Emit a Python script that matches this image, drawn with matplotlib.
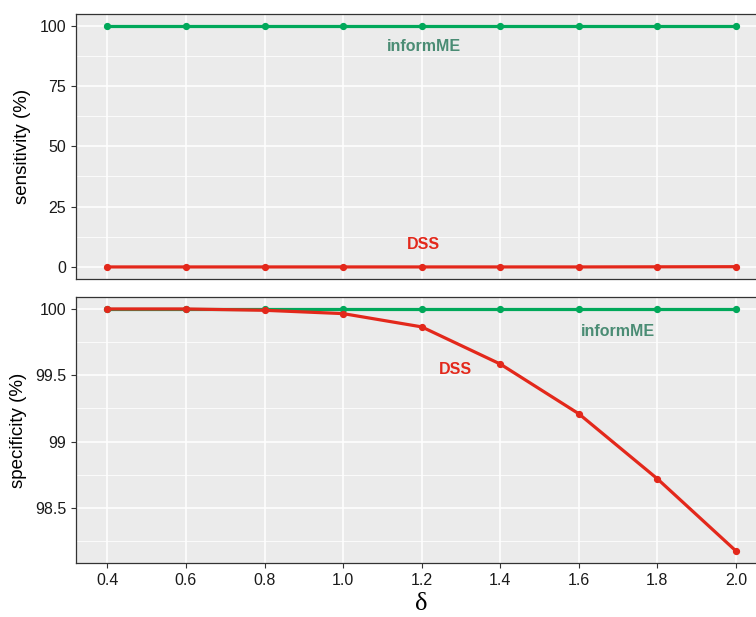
import matplotlib
matplotlib.use("Agg")
import matplotlib.pyplot as plt
from matplotlib.ticker import MultipleLocator

plt.rcParams['font.family'] = ['Liberation Sans', 'DejaVu Sans']

# data
delta = [0.4, 0.6, 0.8, 1.0, 1.2, 1.4, 1.6, 1.8, 2.0]
sens_informme = [100, 100, 100, 100, 100, 100, 100, 100, 100]
sens_dss = [0, 0, 0, 0, 0, 0, 0, 0.05, 0.1]
spec_informme = [100, 100, 100, 100, 100, 100, 100, 100, 100]
spec_dss = [100, 100, 99.99, 99.965, 99.865, 99.585, 99.21, 98.72, 98.176]

green = '#00A85A'
red = '#E3281B'
label_green = '#4A8C74'
bg = '#EBEBEB'
tick_col = '#1A1A1A'

fig = plt.figure(figsize=(7.56, 6.17), dpi=100)
ax1 = fig.add_axes([0.1005, 0.5478, 0.9145, 0.4303])
ax2 = fig.add_axes([0.1005, 0.0875, 0.9145, 0.4311])


def style(ax):
    ax.set_facecolor(bg)
    ax.set_axisbelow(True)
    ax.grid(True, which='major', color='white', linewidth=1.1)
    ax.grid(True, which='minor', axis='y', color='white', linewidth=0.55)
    for s in ax.spines.values():
        s.set_color('#333333')
        s.set_linewidth(0.9)
    ax.tick_params(axis='both', which='major', length=3.5, width=0.8,
                   color='#333333', labelcolor=tick_col, labelsize=11.5)
    ax.tick_params(axis='both', which='minor', length=0)
    ax.set_xlim(0.32, 2.08)
    ax.xaxis.set_major_locator(MultipleLocator(0.2))


style(ax1)
style(ax2)

# top panel: sensitivity
ax1.plot(delta, sens_informme, color=green, lw=2.3, marker='o', ms=4.2, zorder=3)
ax1.plot(delta, sens_dss, color=red, lw=2.3, marker='o', ms=4.2, zorder=3)
ax1.set_ylim(-5, 105)
ax1.yaxis.set_major_locator(MultipleLocator(25))
ax1.yaxis.set_minor_locator(MultipleLocator(12.5))
ax1.tick_params(axis='x', which='both', bottom=False, labelbottom=False)
ax1.set_ylabel('sensitivity (%)', fontsize=13.5, color='black', labelpad=6)
ax1.text(1.205, 91.3, 'informME', color=label_green, fontsize=11.5,
         fontweight='bold', ha='center', va='center')
ax1.text(1.205, 9.5, 'DSS', color=red, fontsize=11.5,
         fontweight='bold', ha='center', va='center')

# bottom panel: specificity
ax2.plot(delta, spec_informme, color=green, lw=2.3, marker='o', ms=4.2, zorder=3)
ax2.plot(delta, spec_dss, color=red, lw=2.3, marker='o', ms=4.2, zorder=4)
ax2.set_ylim(98.085, 100.09)
ax2.set_yticks([98.5, 99, 99.5, 100])
ax2.set_yticklabels(['98.5', '99', '99.5', '100'])
ax2.yaxis.set_minor_locator(MultipleLocator(0.25))
ax2.set_xticks(delta)
ax2.set_xticklabels([f'{d:.1f}' for d in delta])
ax2.set_ylabel('specificity (%)', fontsize=13.5, color='black', labelpad=6)
ax2.set_xlabel('δ', fontsize=19, family=['Liberation Serif', 'DejaVu Serif'],
               labelpad=4)
ax2.text(1.70, 99.83, 'informME', color=label_green, fontsize=11.5,
         fontweight='bold', ha='center', va='center')
ax2.text(1.287, 99.54, 'DSS', color=red, fontsize=11.5,
         fontweight='bold', ha='center', va='center')

fig.savefig('out.png', dpi=100)
